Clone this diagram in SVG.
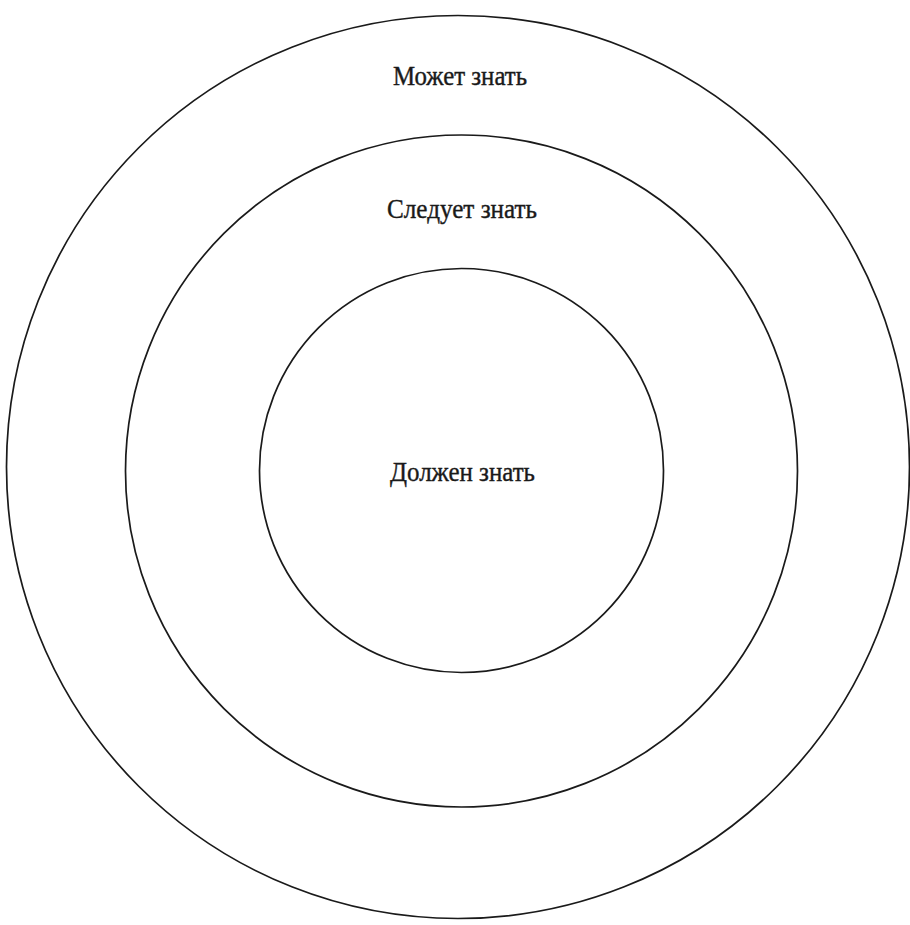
<svg xmlns="http://www.w3.org/2000/svg" width="910" height="925" viewBox="0 0 910 925">
<style>
.ring{fill:none;stroke:#1a1a1a;stroke-width:1.7}
.lbl{font-family:"Liberation Serif","DejaVu Serif",serif;font-size:28px;fill:#1a1a1a;stroke:#1a1a1a;stroke-width:0.4;text-anchor:middle}
</style>
<rect width="910" height="925" fill="#fff"/>
<g id="outer">
<circle class="ring" cx="458" cy="467" r="451.5"/>
<text class="lbl" x="460" y="85" textLength="134" lengthAdjust="spacingAndGlyphs">Может знать</text>
</g>
<g id="middle">
<circle class="ring" cx="461.5" cy="471" r="336"/>
<text class="lbl" x="462" y="218" textLength="150" lengthAdjust="spacingAndGlyphs">Следует знать</text>
</g>
<g id="inner">
<circle class="ring" cx="461.5" cy="470.5" r="202"/>
<text class="lbl" x="462.5" y="481" textLength="145" lengthAdjust="spacingAndGlyphs">Должен знать</text>
</g>
<g id="connectors"/>
</svg>
